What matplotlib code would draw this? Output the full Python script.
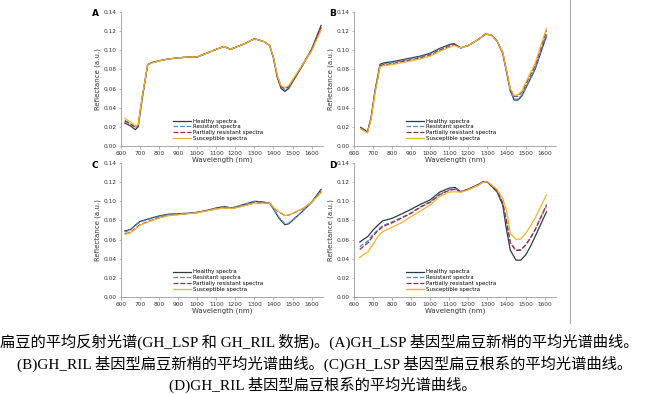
import numpy as np
import matplotlib
matplotlib.use('Agg')
import matplotlib.pyplot as plt

# ---- data ----
labels = ['Healthy spectra', 'Resistant spectra',
          'Partially resistant spectra', 'Susceptible spectra']
panel_names = ['A', 'B', 'C', 'D']

wl_a = [620, 650, 675, 690, 710, 740, 760, 800, 850, 900, 950, 1000, 1050,
        1100, 1140, 1175, 1200, 1250, 1300, 1320, 1350, 1380, 1400, 1420,
        1440, 1460, 1480, 1500, 1550, 1600, 1650]
healthy_a = [0.024, 0.021, 0.017, 0.020, 0.048, 0.085, 0.087, 0.089, 0.091,
             0.092, 0.093, 0.093, 0.097, 0.101, 0.104, 0.101, 0.103, 0.107,
             0.112, 0.111, 0.109, 0.105, 0.092, 0.072, 0.060, 0.057, 0.060,
             0.067, 0.083, 0.101, 0.126]
resistant_a = [0.027, 0.023, 0.019, 0.021, 0.049, 0.085, 0.087, 0.089, 0.091,
               0.092, 0.093, 0.093, 0.097, 0.101, 0.104, 0.101, 0.103, 0.107,
               0.112, 0.111, 0.109, 0.105, 0.092, 0.073, 0.061, 0.059, 0.061,
               0.068, 0.084, 0.101, 0.123]
partial_a = [0.026, 0.023, 0.020, 0.021, 0.049, 0.085, 0.087, 0.089, 0.091,
             0.092, 0.093, 0.093, 0.097, 0.101, 0.104, 0.101, 0.103, 0.107,
             0.112, 0.111, 0.109, 0.105, 0.092, 0.073, 0.062, 0.060, 0.062,
             0.068, 0.084, 0.100, 0.124]
suscept_a = [0.029, 0.025, 0.021, 0.022, 0.050, 0.085, 0.0865, 0.089, 0.091,
             0.092, 0.093, 0.093, 0.097, 0.101, 0.104, 0.101, 0.103, 0.107,
             0.112, 0.111, 0.109, 0.105, 0.093, 0.074, 0.063, 0.061, 0.063,
             0.069, 0.084, 0.099, 0.121]

wl_b = [635, 655, 670, 690, 710, 737, 760, 800, 850, 900, 950, 1000, 1050,
        1100, 1125, 1160, 1200, 1250, 1290, 1320, 1350, 1380, 1400, 1420,
        1440, 1460, 1480, 1500, 1550, 1610]
healthy_b = [0.0195, 0.017, 0.0145, 0.030, 0.058, 0.0855, 0.087, 0.088, 0.090,
             0.092, 0.094, 0.097, 0.102, 0.106, 0.107, 0.1025, 0.105, 0.111,
             0.117, 0.116, 0.110, 0.097, 0.078, 0.058, 0.048, 0.048, 0.052,
             0.060, 0.080, 0.115]
resistant_b = [0.019, 0.0165, 0.014, 0.030, 0.057, 0.0845, 0.086, 0.087, 0.089,
               0.091, 0.093, 0.096, 0.101, 0.105, 0.106, 0.1025, 0.105, 0.111,
               0.117, 0.116, 0.110, 0.097, 0.078, 0.058, 0.049, 0.049, 0.053,
               0.061, 0.081, 0.117]
partial_b = [0.0185, 0.016, 0.014, 0.029, 0.056, 0.084, 0.085, 0.086, 0.088,
             0.090, 0.092, 0.095, 0.100, 0.104, 0.106, 0.1025, 0.105, 0.111,
             0.117, 0.116, 0.110, 0.098, 0.079, 0.059, 0.052, 0.052, 0.056,
             0.064, 0.084, 0.121]
suscept_b = [0.018, 0.0155, 0.0135, 0.028, 0.055, 0.083, 0.084, 0.085, 0.087,
             0.089, 0.091, 0.094, 0.099, 0.103, 0.105, 0.1025, 0.105, 0.111,
             0.117, 0.116, 0.110, 0.098, 0.080, 0.060, 0.053, 0.0535, 0.057,
             0.066, 0.086, 0.123]

wl_c = [620, 650, 675, 700, 750, 800, 850, 900, 950, 1000, 1050, 1100, 1140,
        1180, 1200, 1250, 1300, 1340, 1380, 1400, 1430, 1460, 1480, 1500,
        1550, 1600, 1650]
healthy_c = [0.069, 0.0705, 0.075, 0.079, 0.082, 0.0847, 0.0865, 0.087,
             0.0875, 0.0885, 0.0905, 0.093, 0.0945, 0.093, 0.094, 0.097,
             0.100, 0.0995, 0.098, 0.092, 0.082, 0.0755, 0.0765, 0.080,
             0.089, 0.099, 0.1125]
resistant_c = [0.068, 0.070, 0.0745, 0.0785, 0.0815, 0.084, 0.086, 0.0868,
               0.0873, 0.0883, 0.0903, 0.0928, 0.0943, 0.093, 0.094, 0.0968,
               0.0995, 0.099, 0.098, 0.0925, 0.083, 0.0765, 0.0772, 0.0805,
               0.0892, 0.0988, 0.111]
partial_c = [0.066, 0.0675, 0.0715, 0.0755, 0.0795, 0.0828, 0.0852, 0.0862,
             0.0871, 0.0881, 0.0901, 0.0922, 0.0932, 0.0925, 0.0932, 0.0957,
             0.0982, 0.098, 0.098, 0.0935, 0.0885, 0.0852, 0.0855, 0.0873,
             0.0918, 0.0988, 0.110]
suscept_c = [0.0655, 0.067, 0.071, 0.075, 0.079, 0.0825, 0.085, 0.086,
             0.087, 0.088, 0.090, 0.092, 0.093, 0.0925, 0.093, 0.0955,
             0.098, 0.098, 0.098, 0.0935, 0.089, 0.085, 0.0855, 0.0875,
             0.092, 0.099, 0.109]

wl_d = [630, 650, 675, 700, 725, 750, 800, 850, 900, 950, 1000, 1050, 1100,
        1130, 1160, 1200, 1250, 1280, 1300, 1350, 1380, 1400, 1420, 1450,
        1475, 1500, 1525, 1550, 1610]
healthy_d = [0.0574, 0.0602, 0.0637, 0.070, 0.075, 0.0795, 0.0822, 0.0868,
             0.0917, 0.097, 0.1015, 0.1096, 0.1138, 0.1145, 0.110, 0.1127,
             0.1173, 0.1208, 0.120, 0.110, 0.0963, 0.0707, 0.049, 0.0385,
             0.0385, 0.0437, 0.0525, 0.063, 0.089]
resistant_d = [0.0525, 0.0555, 0.059, 0.0655, 0.070, 0.0745, 0.0785, 0.083,
               0.088, 0.0945, 0.0995, 0.1075, 0.112, 0.113, 0.110, 0.1125,
               0.117, 0.1205, 0.1205, 0.111, 0.098, 0.079, 0.056, 0.049,
               0.0495, 0.0543, 0.0613, 0.070, 0.095]
partial_d = [0.0497, 0.053, 0.057, 0.064, 0.069, 0.0735, 0.0775, 0.0825,
             0.0875, 0.094, 0.099, 0.107, 0.1115, 0.1125, 0.110, 0.1125,
             0.117, 0.1205, 0.1205, 0.111, 0.099, 0.080, 0.057, 0.0485,
             0.049, 0.054, 0.0615, 0.070, 0.0965]
suscept_d = [0.0413, 0.0444, 0.0473, 0.055, 0.063, 0.0683, 0.0728, 0.0777,
             0.084, 0.090, 0.0963, 0.105, 0.1096, 0.110, 0.1095, 0.112,
             0.1165, 0.120, 0.1205, 0.1127, 0.1033, 0.091, 0.0665, 0.0602,
             0.0606, 0.066, 0.074, 0.0822, 0.1067]

caption = [
    '扁豆的平均反射光谱(GH_LSP 和 GH_RIL 数据)。(A)GH_LSP 基因型扁豆新梢的平均光谱曲线。',
    '(B)GH_RIL 基因型扁豆新梢的平均光谱曲线。(C)GH_LSP 基因型扁豆根系的平均光谱曲线。',
    '(D)GH_RIL 基因型扁豆根系的平均光谱曲线。',
]

panels = [
    (wl_a, [healthy_a, resistant_a, partial_a, suscept_a]),
    (wl_b, [healthy_b, resistant_b, partial_b, suscept_b]),
    (wl_c, [healthy_c, resistant_c, partial_c, suscept_c]),
    (wl_d, [healthy_d, resistant_d, partial_d, suscept_d]),
]

colors = ['#2e3b44', '#4a90d0', '#a0283a', '#f0b429']
styles = ['-', '--', (0, (4, 1.5)), '-']

# ---- figure ----
fig = plt.figure(figsize=(6.5, 3.94), dpi=100)

ax_w, ax_h = 202 / 650, 134 / 394
positions = [(121, 146), (354, 146), (121, 297), (354, 297)]
letter_pos = [(95, 14), (333, 14), (95, 165), (333, 165)]

for idx, (wl, series) in enumerate(panels):
    x0, y0 = positions[idx]
    ax = fig.add_axes([x0 / 650, 1 - y0 / 394, ax_w, ax_h])
    for s, lab, c, ls in zip(series, labels, colors, styles):
        ax.plot(wl, s, color=c, ls=ls, lw=0.9, label=lab)
    ax.set_xlim(600, 1660)
    ax.set_ylim(0, 0.14)
    ax.set_xticks(np.arange(600, 1700, 100))
    ax.set_yticks(np.arange(0, 0.141, 0.02))
    ax.yaxis.set_major_formatter(matplotlib.ticker.FormatStrFormatter('%.2f'))
    for sp in ['top', 'right']:
        ax.spines[sp].set_visible(False)
    for sp in ['left', 'bottom']:
        ax.spines[sp].set_color('#999999')
        ax.spines[sp].set_linewidth(0.6)
    ax.tick_params(labelsize=4.2, length=1.8, width=0.5, colors='#999999',
                   labelcolor='#333333', pad=1.5)
    ax.set_xlabel('Wavelength (nm)', fontsize=5, labelpad=1, color='#333333')
    ax.set_ylabel('Reflectance (a.u.)', fontsize=5, labelpad=2, color='#333333')
    ax.legend(loc='lower center', bbox_to_anchor=(0.48, 0.0), frameon=False,
              fontsize=4, handlelength=3.2, handletextpad=0.3,
              labelspacing=0.15)
    lx, ly = letter_pos[idx]
    fig.text(lx / 650, 1 - ly / 394, panel_names[idx], fontsize=6.5,
             fontweight='bold', ha='center', va='center')

# divider line on the right of the page
fig.add_artist(plt.Line2D([570 / 650, 570 / 650], [1 - 323 / 394, 1.0],
                          color='#aaaaaa', lw=0.8))

cap_fonts = ['Liberation Serif', 'Noto Sans CJK SC']
fig.text(0.0, 1 - 342 / 394, caption[0], fontsize=11, family=cap_fonts,
         ha='left', va='center')
fig.text(0.5, 1 - 364 / 394, caption[1], fontsize=11, family=cap_fonts,
         ha='center', va='center')
fig.text(0.497, 1 - 385 / 394, caption[2], fontsize=11, family=cap_fonts,
         ha='center', va='center')

fig.savefig('out.png', dpi=100)
